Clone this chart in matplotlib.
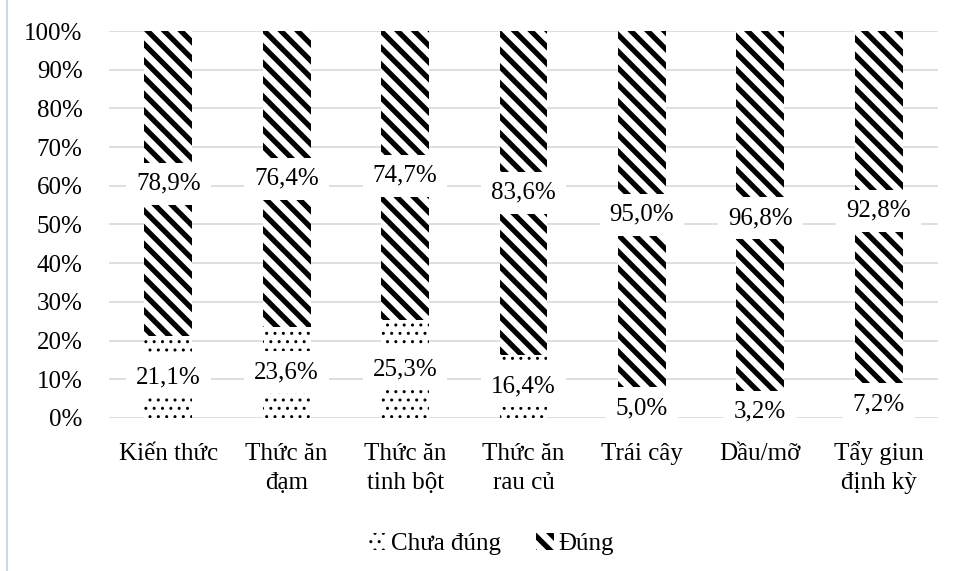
import numpy as np
import matplotlib.pyplot as plt
from matplotlib.patches import Patch
from matplotlib.lines import Line2D

plt.rcParams['font.family'] = ['Liberation Serif', 'DejaVu Serif']

categories = ['Kiến thức', 'Thức ăn\nđạm', 'Thức ăn\ntinh bột', 'Thức ăn\nrau củ',
              'Trái cây', 'Dầu/mỡ', 'Tẩy giun\nđịnh kỳ']
chua_dung = [21.1, 23.6, 25.3, 16.4, 5.0, 3.2, 7.2]
dung = [78.9, 76.4, 74.7, 83.6, 95.0, 96.8, 92.8]

fs = 18
dot_lw = 1.0
stripe_lw = 3.8
fig = plt.figure(figsize=(9.54, 5.71), dpi=100)
ax = fig.add_axes([0.1143, 0.268, 0.8689, 0.6777])

x = np.arange(len(categories))
w = 0.405
with plt.rc_context({'hatch.linewidth': dot_lw}):
    b1 = ax.bar(x, chua_dung, w, color='white', edgecolor='black', linewidth=0,
                hatch='..', zorder=2)
with plt.rc_context({'hatch.linewidth': stripe_lw}):
    b2 = ax.bar(x, dung, w, bottom=chua_dung, color='white', edgecolor='black',
                linewidth=0, hatch='\\\\', zorder=2)
for p in b1:
    if hasattr(p, 'set_hatch_linewidth'):
        p.set_hatch_linewidth(dot_lw)
for p in b2:
    if hasattr(p, 'set_hatch_linewidth'):
        p.set_hatch_linewidth(stripe_lw)

def fmt(v):
    return f'{v:.1f}%'.replace('.', ',')

box = dict(boxstyle='square,pad=0.4', fc='white', ec='none')
for i in range(len(x)):
    ax.text(x[i], chua_dung[i] / 2, fmt(chua_dung[i]), ha='center', va='center',
            fontsize=fs, zorder=3, bbox=box)
    ax.text(x[i], chua_dung[i] + dung[i] / 2, fmt(dung[i]), ha='center', va='center',
            fontsize=fs, zorder=3, bbox=box)

ax.set_xlim(-0.5, 6.5)
ax.set_ylim(0, 100)
ax.set_yticks(np.arange(0, 101, 10))
ax.set_yticklabels([f'{v}%' for v in range(0, 101, 10)])
ax.set_xticks(x)
ax.set_xticklabels([])
ax.tick_params(axis='y', length=0, pad=19, labelsize=fs)
ax.tick_params(axis='x', length=0)
ax.yaxis.grid(True, color='#d9d9d9', linewidth=1.2, zorder=0)
ax.set_axisbelow(True)
for s in ax.spines.values():
    s.set_visible(False)

# category names, one line at a time so every line sits on a common baseline
for i, name in enumerate(categories):
    for j, line in enumerate(name.split('\n')):
        ax.annotate(line, xy=(x[i], 0), xycoords=('data', 'axes fraction'),
                    xytext=(0, -30.5 - 20.3 * j), textcoords='offset points',
                    ha='center', va='baseline', fontsize=fs, annotation_clip=False)

handles = [Patch(facecolor='white', edgecolor='black', linewidth=0, hatch='..'),
           Patch(facecolor='white', edgecolor='black', linewidth=0, hatch='\\\\')]
leg = fig.legend(handles, ['Chưa đúng', 'Đúng'], loc='center',
                 bbox_to_anchor=(0.515, 0.047), ncol=2, frameon=False, fontsize=fs,
                 handlelength=0.7, handleheight=0.7, handletextpad=0.2,
                 columnspacing=1.4)
for p, lw in zip(leg.get_patches(), [dot_lw, stripe_lw]):
    if hasattr(p, 'set_hatch_linewidth'):
        p.set_hatch_linewidth(lw)

# thin blue border on the left edge
fig.add_artist(Line2D([0.0075, 0.0075], [0.0, 1.0], color='#c9d8ec', linewidth=1.5))

fig.savefig('out.png', dpi=100)
